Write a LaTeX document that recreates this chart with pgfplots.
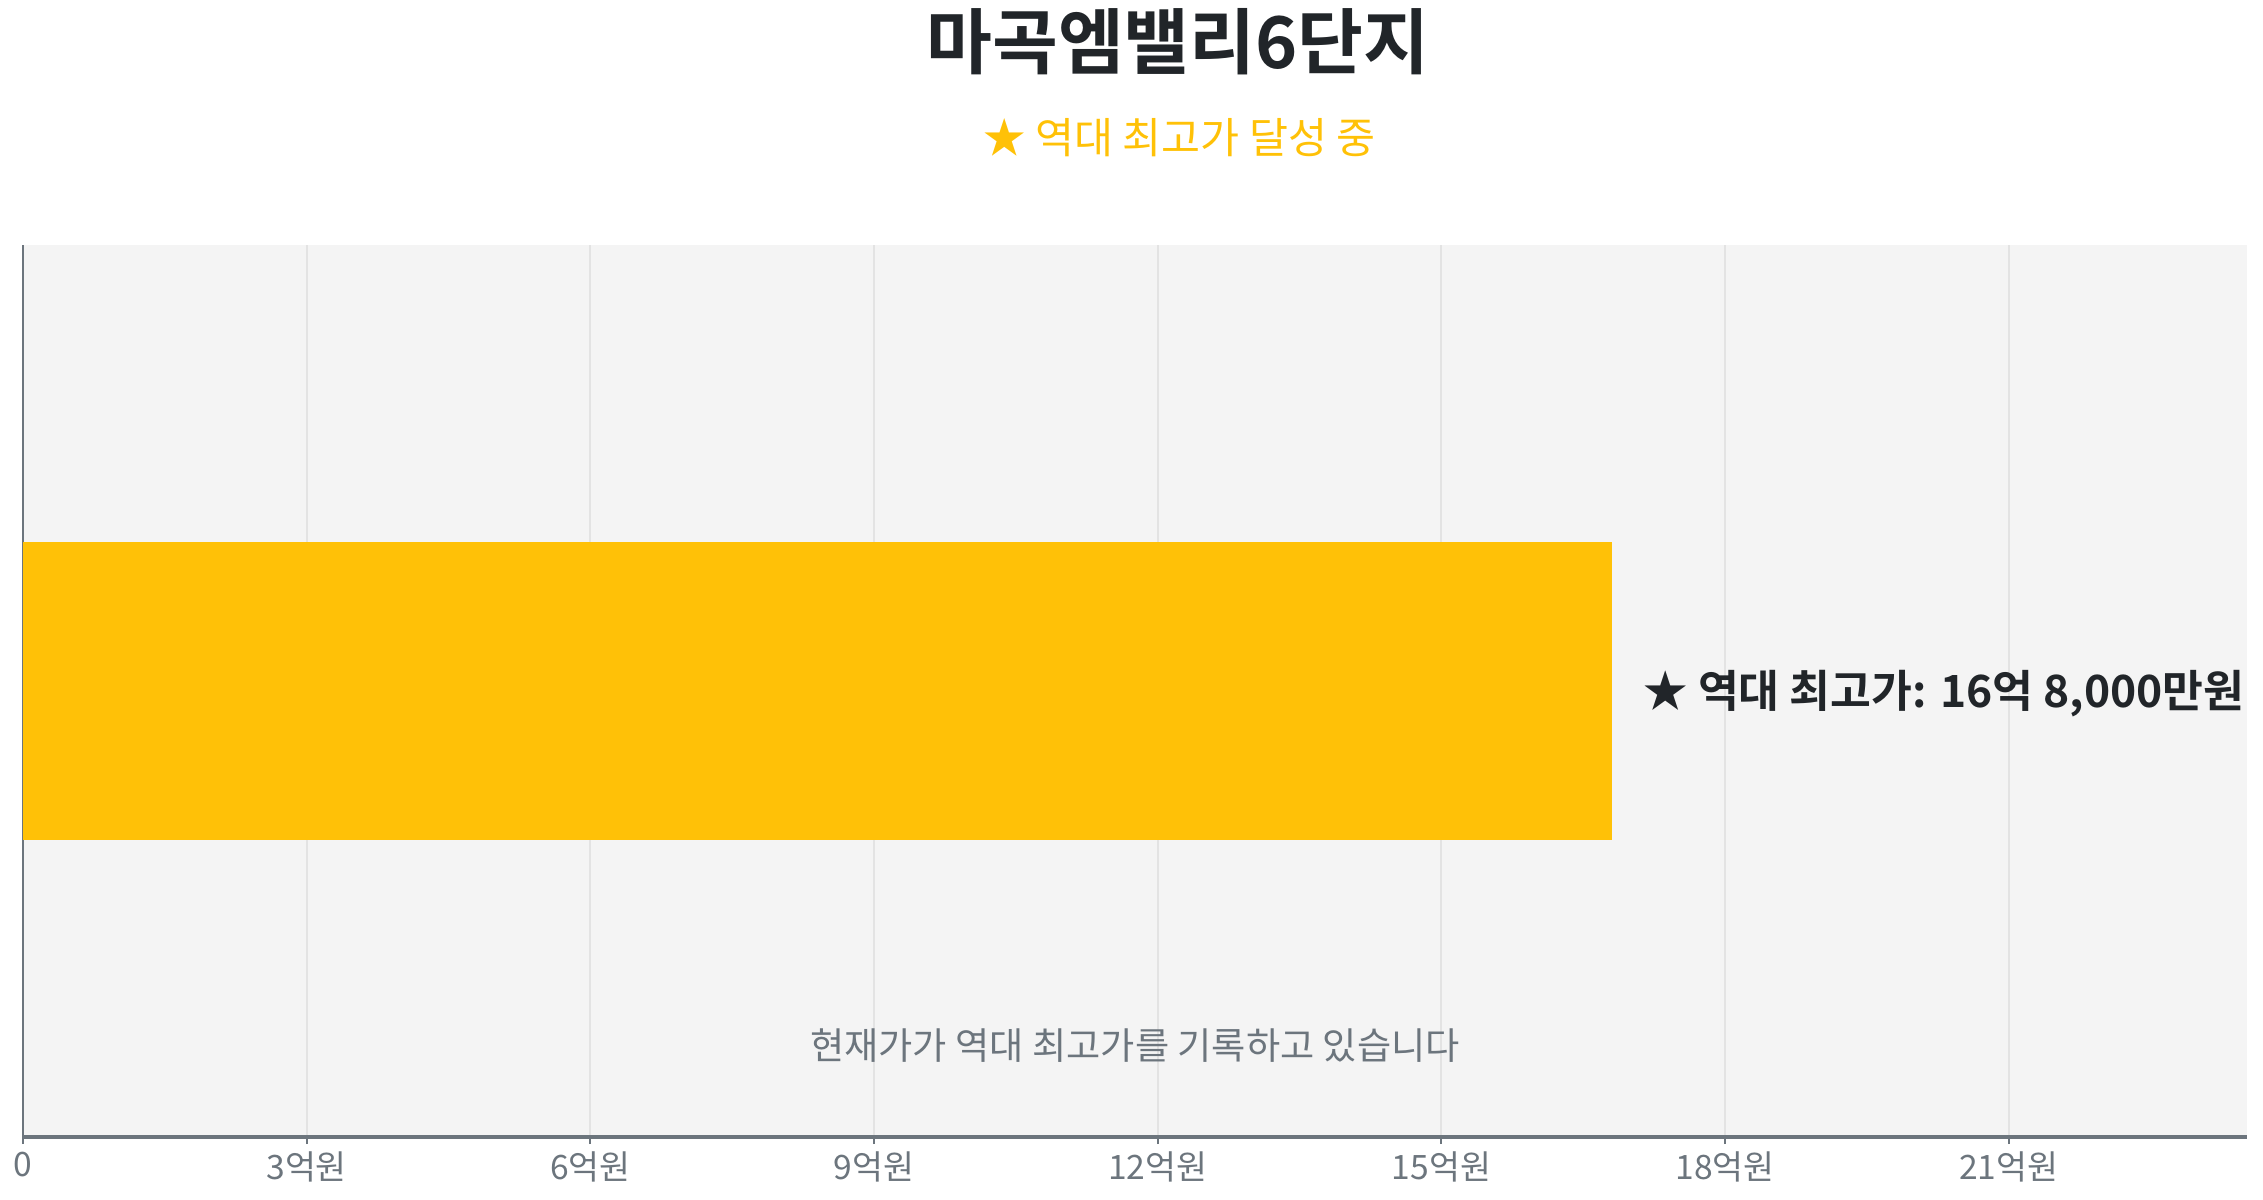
\documentclass[border=0pt]{standalone}
\usepackage{pgfplots}
\pgfplotsset{compat=1.18}
\usepackage{fontspec}
\setmainfont{Noto Sans CJK KR}[BoldFont={Noto Sans CJK KR Bold}]
\definecolor{barc}{HTML}{FFC107}
\definecolor{titlec}{HTML}{212529}
\definecolor{tickc}{HTML}{6C757D}
\definecolor{bgc}{HTML}{F4F4F4}
\definecolor{gridc}{HTML}{E3E3E3}
\definecolor{axc}{HTML}{6C757D}
\begin{document}
\begin{tikzpicture}
\begin{axis}[
  scale only axis,
  width=556pt, height=223pt,
  xmin=0, xmax=23.52, ymin=-1.5, ymax=1.5,
  axis lines*=left,
  axis line style={-},
  x axis line style={draw=axc, line width=0.8pt},
  y axis line style={draw=axc, line width=0.4pt},
  axis background/.style={fill=bgc},
  xtick={0,3,6,9,12,15,18,21},
  xticklabels={0,3억원,6억원,9억원,12억원,15억원,18억원,21억원},
  ytick=\empty,
  tick align=outside,
  major tick length=1.8pt,
  tick style={draw=axc, line width=0.5pt},
  xmajorgrids,
  grid style={draw=gridc, line width=0.5pt},
  xticklabel style={font=\fontsize{8.4}{9.5}\selectfont, text=tickc, yshift=1.6pt},
  clip=false,
]
\addplot[xbar, fill=barc, draw=none, bar width=74.33pt,
  nodes near coords={\bfseries ★ 역대 최고가: 16억 8,000만원},
  nodes near coords style={anchor=west, font=\fontsize{11.1}{13}\selectfont, text=titlec, xshift=7.8pt, yshift=-0.6pt, inner sep=0pt}]
  coordinates {(16.8,0)};
\node[font=\fontsize{9.3}{11}\selectfont, text=tickc] at (rel axis cs:0.5,0.103) {현재가가 역대 최고가를 기록하고 있습니다};
\end{axis}
\node[font=\bfseries\fontsize{17.9}{21}\selectfont, text=titlec] at (288.75pt,273.9pt) {마곡엠밸리6단지};
\node[font=\fontsize{10.6}{12}\selectfont, text=barc] at (289.2pt,249.9pt) {★ 역대 최고가 달성 중};
\pgfresetboundingbox
\path (-5.75pt,-15.75pt) rectangle (560pt,284.25pt);
\end{tikzpicture}
\end{document}
